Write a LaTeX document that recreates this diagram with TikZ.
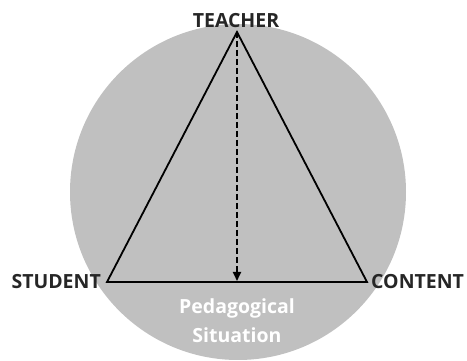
\documentclass[tikz,border=0pt]{standalone}
\usepackage{fontspec}
\setmainfont{Open Sans}
\usetikzlibrary{arrows.meta}
\definecolor{circgray}{RGB}{192,192,192}
\tikzset{
  lbl/.style={font=\fontsize{19.5}{24}\selectfont\bfseries, text=black!85, inner sep=0pt},
  wlbl/.style={font=\fontsize{19.5}{24}\selectfont\bfseries, text=white, inner sep=0pt},
  side/.style={line width=1.8pt, black},
  dasharrow/.style={line width=2pt, dash pattern=on 6pt off 3pt, -{Triangle[length=9pt,width=8pt]}}
}
\begin{document}
\begin{tikzpicture}[x=1pt,y=-1pt]
\useasboundingbox (0,0) rectangle (467,361);
\fill[circgray] (238,192) circle (168);
\coordinate (T) at (237,32);
\coordinate (S) at (107,282);
\coordinate (C) at (367,282);
\coordinate (M) at (237,281);
\draw[side, line join=miter] (S) -- (T) -- (C) -- cycle;
\draw[dasharrow] (T) -- (M);
\node[lbl, anchor=base] (teacher) at (236,28) {TEACHER};
\node[lbl, anchor=base east] (student) at (101,288) {STUDENT};
\node[lbl, anchor=base west] (content) at (371,288) {CONTENT};
\node[wlbl, anchor=base] (ped) at (237,313) {Pedagogical};
\node[wlbl, anchor=base] (sit) at (237,343) {Situation};
\end{tikzpicture}
\end{document}
